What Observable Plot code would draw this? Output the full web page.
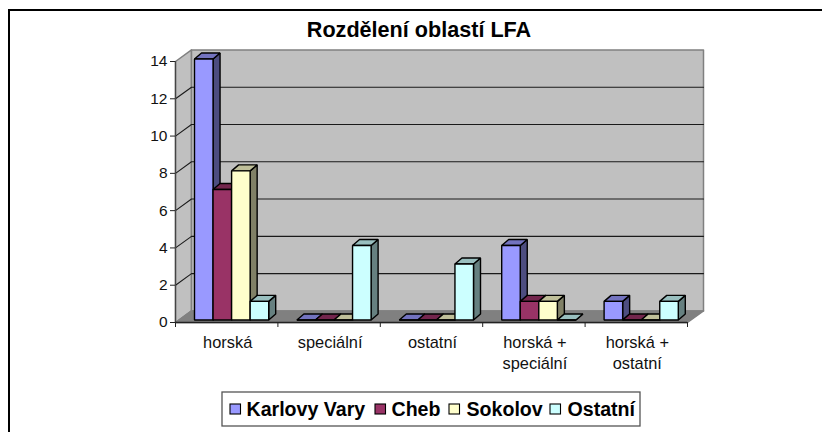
<!DOCTYPE html>
<html>
<head>
<meta charset="utf-8">
<script src="https://cdn.jsdelivr.net/npm/d3@7"></script>
<script src="https://cdn.jsdelivr.net/npm/@observablehq/plot@0.6"></script>
<style>
html,body{margin:0;padding:0;background:#fff;width:822px;height:432px;overflow:hidden}
#frame{position:absolute;left:8px;top:9px;width:814px;height:423px;border-top:2px solid #000;border-left:2px solid #000;box-sizing:border-box}
#chart{position:absolute;left:0;top:0}
svg{display:block;background:transparent !important}
</style>
</head>
<body>
<div id="frame"></div>
<div id="chart"></div>
<script>
const categories = ["horská", "speciální", "ostatní", "horská +\nspeciální", "horská +\nostatní"];
const seriesNames = ["Karlovy Vary", "Cheb", "Sokolov", "Ostatní"];
const karlovyVary = [14, 0, 0, 4, 1];
const cheb = [7, 0, 0, 1, 0];
const sokolov = [8, 0, 0, 1, 0];
const ostatni = [1, 4, 3, 0, 1];
const seriesValues = [karlovyVary, cheb, sokolov, ostatni];
const faceColors = ["#9999FF", "#993366", "#FFFFCC", "#CCFFFF"];
const topColors = ["#7373BF", "#73264D", "#BFBF99", "#99BFBF"];
const sideColors = ["#4D4D80", "#4D1A33", "#808066", "#668080"];
const yTicks = [0, 2, 4, 6, 8, 10, 12, 14];

const W = 822, H = 432, mL = 175, mR = 135, mT = 61, mB = 110;
const ux = (W - mL - mR) / categories.length;   // px per category
const uy = (H - mT - mB) / 14;                  // px per value unit
const px = p => p / ux, py = p => p / uy;
const wallX = px(16), wallY = py(11.6);
const barStart = px(19), barW = px(18.55), barDX = px(7), barDY = py(6), baseY = py(2.5);

const polys = [];
let id = 0;
function poly(pts, fill) { const z = id++; for (const [x, y] of pts) polys.push({x, y, z, fill}); }

// walls and floor
poly([[0, 0], [wallX, wallY], [wallX, 14 + wallY], [0, 14]], "#C0C0C0");
poly([[wallX, wallY], [5 + wallX, wallY], [5 + wallX, 14 + wallY], [wallX, 14 + wallY]], "#C0C0C0");
poly([[0, 0], [5, 0], [5 + wallX, wallY], [wallX, wallY]], "#808080");
const wallPolys = polys.splice(0);

// gridlines
const grid = [];
for (const v of yTicks.slice(1, -1)) {
  grid.push({x: 0, y: v, v}, {x: wallX, y: v + wallY, v}, {x: 5 + wallX, y: v + wallY, v});
}

// bars
categories.forEach((c, i) => {
  seriesValues.forEach((vals, s) => {
    const a = i + barStart + s * barW, b = a + barW, v = vals[i] + baseY, o = baseY;
    poly([[b, o], [b + barDX, o + barDY], [b + barDX, v + barDY], [b, v]], sideColors[s]);
    poly([[a, v], [b, v], [b + barDX, v + barDY], [a + barDX, v + barDY]], topColors[s]);
    poly([[a, o], [b, o], [b, v], [a, v]], faceColors[s]);
  });
});

// legend
const legendBox = [{x1: px(222 - mL), x2: px(640 - mL), y1: py(322 - 426), y2: py(322 - 392)}];
const legendX = [230, 375, 449, 550];
const legendTextX = [246, 391, 466, 567];
const legendY = py(322 - 409);
const swatchW = px(10.5), swatchH = py(10);
const swatches = seriesNames.map((n, s) => ({
  x1: px(legendX[s] - mL), x2: px(legendX[s] - mL) + swatchW,
  y1: legendY - swatchH / 2, y2: legendY + swatchH / 2, fill: faceColors[s]
}));
const legendLabels = seriesNames.map((n, s) => ({x: px(legendTextX[s] - mL), y: legendY, n}));

const font = "'Liberation Sans', Arial, sans-serif";
const chart = Plot.plot({
  width: W, height: H, marginLeft: mL, marginRight: mR, marginTop: mT, marginBottom: mB,
  style: {background: "transparent", fontFamily: font, overflow: "visible"},
  x: {domain: [0, 5], axis: null},
  y: {domain: [0, 14], axis: null},
  marks: [
    Plot.line(wallPolys, {x: "x", y: "y", z: "z", fill: "fill", stroke: "#808080", strokeWidth: 1.5, curve: "linear-closed"}),
    Plot.line(grid, {x: "x", y: "y", z: "v", stroke: "#1a1a1a", strokeWidth: 1.1}),
    Plot.ruleX([0], {y1: 0, y2: 14, stroke: "#444", strokeWidth: 1.3}),
    Plot.ruleY([0], {x1: 0, x2: 5, stroke: "#222", strokeWidth: 1.3}),
    Plot.axisY({ticks: yTicks, tickSize: 5, tickPadding: 3, fontSize: 15.5, stroke: "#222", fill: "#111", tickFormat: d => d}),
    Plot.axisX({ticks: [0, 1, 2, 3, 4, 5], tickSize: 5, tickFormat: () => "", stroke: "#222"}),
    Plot.line(polys, {x: "x", y: "y", z: "z", fill: "fill", stroke: "#000", strokeWidth: 1.4, strokeLinejoin: "miter", curve: "linear-closed"}),
    Plot.text(categories, {x: (d, i) => i + 0.5 + px(1), y: 0, text: d => d, dy: 11, lineAnchor: "top", lineHeight: 1.25, fontSize: 16.4, fill: "#111"}),
    Plot.text(["Rozdělení oblastí LFA"], {x: px(418.5 - mL), y: py(322 - 30), text: d => d, fontSize: 21.6, fontWeight: "bold", fill: "#000"}),
    Plot.rect(legendBox, {x1: "x1", x2: "x2", y1: "y1", y2: "y2", fill: "#fff", stroke: "#555", strokeWidth: 1.3}),
    Plot.rect(swatches, {x1: "x1", x2: "x2", y1: "y1", y2: "y2", fill: "fill", stroke: "#000", strokeWidth: 1.1}),
    Plot.text(legendLabels, {x: "x", y: "y", text: "n", textAnchor: "start", fontSize: 19.6, fontWeight: "bold", fill: "#000"})
  ]
});
document.getElementById("chart").appendChild(chart);
</script>
</body>
</html>
